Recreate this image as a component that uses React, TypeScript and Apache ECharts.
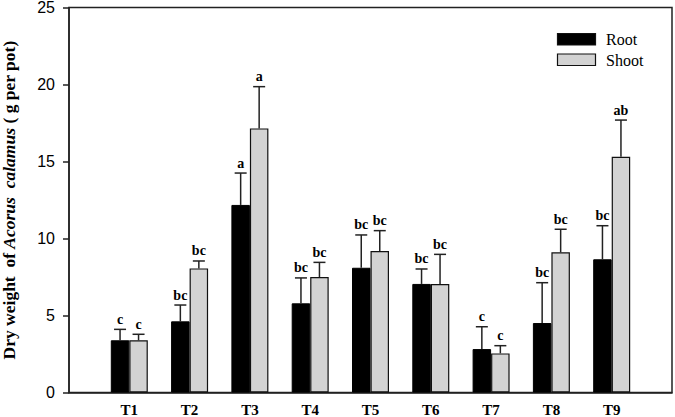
import React, { useEffect, useRef } from "react";
import * as echarts from "echarts";

const categories = ["T1", "T2", "T3", "T4", "T5", "T6", "T7", "T8", "T9"];
const seriesNames = ["Root", "Shoot"];
const rootValues = [3.39, 4.62, 12.18, 5.79, 8.1, 7.05, 2.82, 4.51, 8.65];
const rootErrors = [0.71, 1.06, 2.07, 1.65, 2.13, 0.97, 1.45, 2.62, 2.18];
const rootLetters = ["c", "bc", "a", "bc", "bc", "bc", "c", "bc", "bc"];
const shootValues = [3.39, 8.06, 17.15, 7.5, 9.19, 7.05, 2.54, 9.1, 15.31];
const shootErrors = [0.39, 0.48, 2.71, 0.95, 1.32, 1.92, 0.5, 1.5, 2.38];
const shootLetters = ["c", "bc", "a", "bc", "bc", "bc", "c", "bc", "ab"];
const yTicks = [0, 5, 10, 15, 20, 25];

const BAR_W = 18.5;
const SERIF = "Liberation Serif";
const SANS = "Liberation Sans";
const ROOT_COLOR = "#000";
const SHOOT_COLOR = "#d3d3d3";

export default function App() {
  const ref = useRef<HTMLDivElement>(null);
  useEffect(() => {
    if (!ref.current) return;
    const chart = echarts.init(ref.current, undefined, { renderer: "svg" });
    const axisCats = ["", ...categories, ""];

    const errSeries = (values: number[], errs: number[], letters: string[], offset: number) => ({
      type: "custom",
      silent: true,
      z: 10,
      data: values.map((v, i) => [i + 1, v, errs[i]]),
      renderItem: (params: any, api: any) => {
        const idx = api.value(0);
        const v = api.value(1);
        const e = api.value(2);
        const letter = letters[params.dataIndex];
        const base = api.coord([idx, v]);
        const top = api.coord([idx, v + e]);
        const x = base[0] + offset;
        return {
          type: "group",
          children: [
            {
              type: "line",
              shape: { x1: x, y1: base[1], x2: x, y2: top[1] },
              style: { stroke: "#222", lineWidth: 1.5 },
            },
            {
              type: "line",
              shape: { x1: x - 6, y1: top[1], x2: x + 6, y2: top[1] },
              style: { stroke: "#222", lineWidth: 1.5 },
            },
            {
              type: "text",
              x: x,
              y: top[1] - 3,
              style: {
                text: letter,
                fill: "#000",
                fontFamily: SERIF,
                fontWeight: "bold",
                fontSize: 14,
                align: "center",
                verticalAlign: "bottom",
              },
            },
          ],
        };
      },
    });

    const legendColors = [ROOT_COLOR, SHOOT_COLOR];
    const legendY = [33.5, 54];
    const legendGraphics: any[] = [];
    seriesNames.forEach((name, i) => {
      legendGraphics.push({
        type: "rect",
        shape: { x: 557.5, y: legendY[i], width: 38, height: 11.5 },
        style: { fill: legendColors[i], stroke: "#111", lineWidth: 1.2 },
      });
      legendGraphics.push({
        type: "text",
        x: 606,
        y: legendY[i] + 6,
        style: {
          text: name,
          fill: "#000",
          fontFamily: SERIF,
          fontSize: 16,
          align: "left",
          verticalAlign: "middle",
        },
      });
    });

    chart.setOption({
      animation: false,
      backgroundColor: "#fff",
      grid: {
        left: 69,
        right: 3,
        top: 7.5,
        bottom: 24.5,
        containLabel: false,
        outerBoundsMode: "none",
        show: true,
        borderColor: "#222",
        borderWidth: 1.5,
      },
      graphic: legendGraphics,
      xAxis: {
        type: "category",
        data: axisCats,
        boundaryGap: false,
        axisLine: { lineStyle: { color: "#222", width: 1.5 } },
        axisTick: { show: false },
        axisLabel: {
          margin: 10,
          fontFamily: SERIF,
          fontWeight: "bold",
          fontSize: 15,
          lineHeight: 14,
          color: "#000",
          interval: 0,
        },
        splitLine: { show: false },
      },
      yAxis: {
        type: "value",
        min: yTicks[0],
        max: yTicks[yTicks.length - 1],
        interval: 5,
        axisLine: { show: true, lineStyle: { color: "#222", width: 1.5 } },
        axisTick: { show: true, length: 6, lineStyle: { color: "#222", width: 1.5 } },
        axisLabel: {
          margin: 14,
          fontFamily: SANS,
          fontSize: 16,
          color: "#000",
        },
        splitLine: { show: false },
        name: "{b|Dry weight  of }{i|Acorus  calamus}{b| ( g per pot)}",
        nameLocation: "middle",
        nameGap: 51,
        nameTextStyle: {
          fontFamily: SERIF,
          fontSize: 17.5,
          fontWeight: "bold",
          color: "#000",
          rich: {
            b: { fontFamily: SERIF, fontWeight: "bold", fontSize: 17.5, color: "#000" },
            i: { fontFamily: SERIF, fontStyle: "italic", fontSize: 17.5, color: "#000" },
          },
        },
      },
      series: [
        {
          name: seriesNames[0],
          type: "bar",
          data: [null, ...rootValues, null],
          barWidth: BAR_W,
          barGap: "0%",
          itemStyle: { color: ROOT_COLOR, borderColor: "#000", borderWidth: 1 },
        },
        {
          name: seriesNames[1],
          type: "bar",
          data: [null, ...shootValues, null],
          barWidth: BAR_W,
          barGap: "0%",
          itemStyle: { color: SHOOT_COLOR, borderColor: "#111", borderWidth: 1.2 },
        },
        errSeries(rootValues, rootErrors, rootLetters, -BAR_W / 2),
        errSeries(shootValues, shootErrors, shootLetters, BAR_W / 2),
      ],
    });
    return () => chart.dispose();
  }, []);
  return <div ref={ref} style={{ width: 675, height: 417, position: "fixed", left: 0, top: 0 }} />;
}
